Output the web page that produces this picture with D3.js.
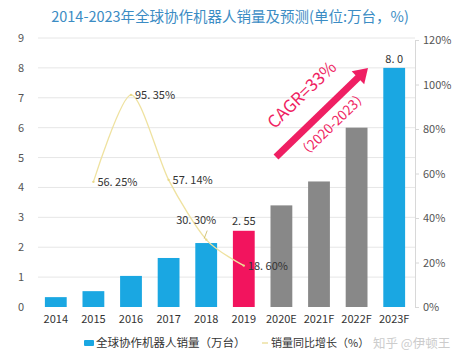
<!DOCTYPE html>
<html>
<head>
<meta charset="utf-8">
<script src="https://cdn.jsdelivr.net/npm/d3@7"></script>
<style>
  body { margin: 0; background: #fff; }
  text { font-family: "Noto Sans CJK SC", "Noto Sans", sans-serif; }
</style>
</head>
<body>
<svg id="chart" width="459" height="361"></svg>
<script>
    var years = ["2014", "2015", "2016", "2017", "2018", "2019", "2020E", "2021F", "2022F", "2023F"];
    var sales = [0.33, 0.53, 1.04, 1.64, 2.14, 2.55, 3.4, 4.2, 6.0, 8.0];
    var barColors = ["#1aa7e2", "#1aa7e2", "#1aa7e2", "#1aa7e2", "#1aa7e2", "#f2145e", "#888888", "#888888", "#888888", "#1aa7e2"];
    var growthYears = ["2015", "2016", "2017", "2018", "2019"];
    var growth = [56.25, 95.35, 57.14, 30.30, 18.60];
    var growthLabels = ["56. 25%", "95. 35%", "57. 14%", "30. 30%", "18. 60%"];
    var leftTicks = [0, 1, 2, 3, 4, 5, 6, 7, 8, 9];
    var rightTicks = [0, 20, 40, 60, 80, 100, 120];

    var svg = d3.select("#chart");

    var x = d3.scaleBand().domain(years).range([37, 413]).paddingInner(0.42).paddingOuter(0.21);
    var y = d3.scaleLinear().domain([0, 9]).range([307, 38]);
    var y2 = d3.scaleLinear().domain([0, 120]).range([307, 40]);

    // title
    svg.append("text")
        .attr("x", 230).attr("y", 22)
        .attr("text-anchor", "middle")
        .attr("font-size", 14.5)
        .attr("fill", "#3b8cc4")
        .text("2014-2023年全球协作机器人销量及预测(单位:万台，%)");

    // gridlines
    svg.append("g").selectAll("line")
        .data(leftTicks.slice(1))
        .enter().append("line")
        .attr("x1", 38).attr("x2", 415)
        .attr("y1", function (d) { return y(d); })
        .attr("y2", function (d) { return y(d); })
        .attr("stroke", "#e6e6e6");

    // left axis
    var gl = svg.append("g").attr("transform", "translate(38,0)")
        .call(d3.axisLeft(y).tickValues(leftTicks).tickSize(0).tickPadding(14));
    gl.select(".domain").remove();
    gl.selectAll("text").attr("font-size", 11).attr("fill", "#555");

    // right axis
    var gr = svg.append("g").attr("transform", "translate(415,0)")
        .call(d3.axisRight(y2).tickValues(rightTicks).tickSize(4).tickPadding(4)
            .tickFormat(function (d) { return d + "%"; }));
    gr.select(".domain").attr("stroke", "#d8d8d8");
    gr.selectAll("line").attr("stroke", "#d8d8d8");
    gr.selectAll("text").attr("font-size", 11).attr("fill", "#555");

    // bottom labels
    var gb = svg.append("g").attr("transform", "translate(0,307)")
        .call(d3.axisBottom(x).tickSize(0).tickPadding(8));
    gb.select(".domain").remove();
    gb.selectAll("text").attr("font-size", 11).attr("fill", "#333");

    // bars
    svg.append("g").selectAll("rect")
        .data(sales)
        .enter().append("rect")
        .attr("x", function (d, i) { return x(years[i]); })
        .attr("y", function (d) { return y(d); })
        .attr("width", x.bandwidth())
        .attr("height", function (d) { return y(0) - y(d); })
        .attr("fill", function (d, i) { return barColors[i]; });

    // bar labels
    svg.append("text")
        .attr("x", x("2019") + x.bandwidth() / 2).attr("y", y(2.55) - 6)
        .attr("text-anchor", "middle").attr("font-size", 11).attr("fill", "#333")
        .text("2. 55");
    svg.append("text")
        .attr("x", x("2023F") + x.bandwidth() / 2).attr("y", y(8.0) - 5)
        .attr("text-anchor", "middle").attr("font-size", 11).attr("fill", "#333")
        .text("8. 0");

    // growth line
    var cx = function (d, i) { return x(growthYears[i]) + x.bandwidth() / 2; };
    var line = d3.line()
        .x(cx)
        .y(function (d) { return y2(d); })
        .curve(d3.curveCardinal.tension(0.2));
    svg.append("path")
        .datum(growth)
        .attr("d", line)
        .attr("fill", "none")
        .attr("stroke", "#efe2a0")
        .attr("stroke-width", 1.3);
    svg.append("g").selectAll("circle")
        .data(growth)
        .enter().append("circle")
        .attr("cx", cx)
        .attr("cy", function (d) { return y2(d); })
        .attr("r", 1.2)
        .attr("fill", "#e8d98a");

    var labOff = [[4, 4], [4, 4], [4, 4], [-10, -16], [4, 4]];
    svg.append("g").selectAll("text")
        .data(growth)
        .enter().append("text")
        .attr("x", function (d, i) { return cx(d, i) + labOff[i][0]; })
        .attr("y", function (d, i) { return y2(d) + labOff[i][1]; })
        .attr("font-size", 11)
        .attr("fill", "#333")
        .attr("text-anchor", function (d, i) { return i == 3 ? "middle" : "start"; })
        .text(function (d, i) { return growthLabels[i]; });
    // leader for 30.30%
    svg.append("line")
        .attr("x1", cx(0, 3) - 2).attr("y1", y2(30.3) - 1)
        .attr("x2", cx(0, 3) + 1).attr("y2", y2(30.3) - 9)
        .attr("stroke", "#c9b860").attr("stroke-width", 0.8);

    // CAGR arrow
    var ax1 = 276, ay1 = 157, ax2 = 368, ay2 = 68;
    var ang = Math.atan2(ay2 - ay1, ax2 - ax1);
    svg.append("line")
        .attr("x1", ax1).attr("y1", ay1)
        .attr("x2", ax2 - 10 * Math.cos(ang)).attr("y2", ay2 - 10 * Math.sin(ang))
        .attr("stroke", "#ef1f63").attr("stroke-width", 7);
    var hl = 14, hw = 9;
    var bx = ax2 - hl * Math.cos(ang), by = ay2 - hl * Math.sin(ang);
    svg.append("path")
        .attr("d", "M" + ax2 + "," + ay2 +
            "L" + (bx + hw * Math.sin(ang)) + "," + (by - hw * Math.cos(ang)) +
            "L" + (bx - hw * Math.sin(ang)) + "," + (by + hw * Math.cos(ang)) + "Z")
        .attr("fill", "#ef1f63");
    var deg = ang * 180 / Math.PI;
    svg.append("text")
        .attr("transform", "translate(306,99) rotate(" + deg + ")")
        .attr("text-anchor", "middle")
        .attr("font-size", 17)
        .attr("fill", "#ef1f63")
        .text("CAGR=33%");
    svg.append("text")
        .attr("transform", "translate(336,128) rotate(" + deg + ")")
        .attr("text-anchor", "middle")
        .attr("font-size", 13.5)
        .attr("fill", "#ef1f63")
        .text("（2020-2023）");

    // legend
    svg.append("rect")
        .attr("x", 84).attr("y", 340).attr("width", 10).attr("height", 6).attr("rx", 1)
        .attr("fill", "#1aa7e2");
    svg.append("text")
        .attr("x", 96).attr("y", 347).attr("font-size", 11.5).attr("fill", "#333")
        .text("全球协作机器人销量（万台）");
    svg.append("line")
        .attr("x1", 262).attr("x2", 268).attr("y1", 343).attr("y2", 343)
        .attr("stroke", "#e8d98a").attr("stroke-width", 1.2);
    svg.append("text")
        .attr("x", 271).attr("y", 347).attr("font-size", 11).attr("fill", "#333")
        .text("销量同比增长（%）");
    svg.append("text")
        .attr("x", 373).attr("y", 348).attr("font-size", 12.5).attr("fill", "#cccccc")
        .text("知乎 @伊顿王");
</script>
</body>
</html>
